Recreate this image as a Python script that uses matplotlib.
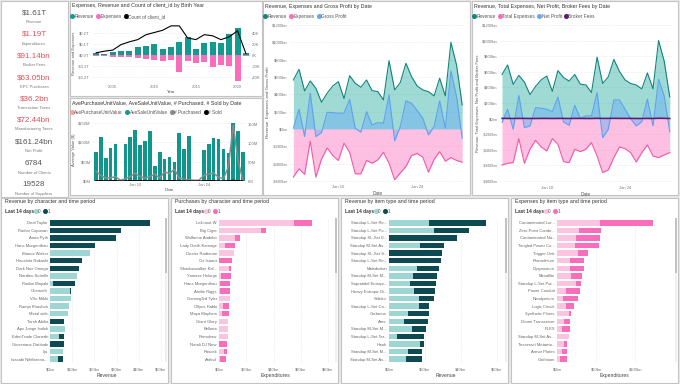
import numpy as np
import matplotlib
matplotlib.use('Agg')
import matplotlib.pyplot as plt
import matplotlib.dates as mdates
from matplotlib.patches import Rectangle
from matplotlib.lines import Line2D

plt.rcParams['font.family'] = ['Liberation Sans', 'DejaVu Sans']

# ---------------- data ----------------
kpi_values = ['$1.61T', '$1.19T', '$91.14bn', '$63.05bn', '$36.2bn', '$72.44bn', '$161.24bn', '6784', '19528']
kpi_labels = ['Revenue', 'Expenditures', 'Broker Fees', 'EPC Purchases', 'Transaction Taxes',
              'Manufacturing Taxes', 'Net Profit', 'Number of Clients', 'Number of Suppliers']
kpi_red = [False, True, True, True, True, True, False, False, False]

birth_years = [2003, 2004, 2005, 2006, 2007, 2008, 2009, 2010, 2011, 2012,
               2013, 2014, 2015, 2016, 2017, 2018, 2019, 2020, 2021]
year_revenue = [0.015, 0.01, 0.03, 0.035, 0.04, 0.07, 0.08, 0.1, 0.055, 0.07,
                0.12, 0.16, 0.055, 0.11, 0.115, 0.11, 0.19, 0.25, 0.015]
year_expenses = [-0.01, -0.005, -0.02, -0.02, -0.015, -0.03, -0.035, -0.045, -0.055, -0.045,
                 -0.15, -0.055, -0.075, -0.065, -0.11, -0.09, -0.1, -0.24, -0.01]
year_clients = [4, 7, 9, 19, 24, 28, 37, 41, 45, 53, 53, 31, 28, 37, 35, 28, 33, 44, 3]

days = np.arange(np.datetime64('2024-01-02'), np.datetime64('2024-02-02'))
ave_sale = [76, 113, 59, 85, 97, 0, 97, 113, 131, 92, 103, 129, 39, 75, 57, 63, 50, 124, 83, 116,
            0, 0, 80, 96, 112, 108, 82, 72, 149, 129, 75]
n_purchased = [26, 15, 8, 9, 11, 2, 6, 12, 21, 12, 8, 12, 18, 8, 24, 20, 31, 8, 4, 3,
               2, 2, 15, 19, 21, 10, 6, 38, 149, 51, 2]
n_sold = [1, 1, 0.5, 1, 1, 0.3, 0.5, 1, 1, 1, 0.5, 1, 1, 0.5, 1, 1, 1, 0.5, 0.5, 0.3,
          0.2, 0.2, 1, 1, 1, 0.5, 0.5, 1, 2, 1, 0.3]

revenue = [565, 688, 438, 554, 469, 308, 412, 496, 546, 350, 615, 527, 481, 565, 442, 431,
           335, 788, 450, 535, 758, 604, 496, 450, 431, 381, 585, 381, 1000, 738, 277]
expenses = [-557, -461, -526, -142, -557, -350, -220, -308, -365, -165, -273, -519, -519, -365, -396, -358,
            -270, -396, -588, -508, -435, -308, -284, -327, -500, -354, -262, -373, -331, -365, -385]
gross_profit = [8, 227, -88, 412, -88, -42, 192, 188, 181, 181, 342, 8, -38, 200, 46, 73,
                65, 392, -138, 27, 323, 296, 212, 123, -69, 27, 323, 8, 669, 373, -108]
total_expenses = [-594, -573, -564, -256, -573, -393, -278, -363, -415, -256, -329, -551, -564, -393, -423, -393,
                  -308, -479, -692, -658, -500, -363, -385, -436, -556, -436, -338, -479, -500, -466, -436]
net_profit = [-51, 120, -137, 299, -115, -94, 141, 132, 120, 90, 278, -43, -85, 171, 4, 34,
              34, 333, -244, -137, 239, 239, 120, 0, -94, -38, 248, -94, 504, 291, -171]
broker_fees = [3, 3, 2, 3, 3, 2, 2, 3, 3, 2, 3, 3, 2, 3, 3, 2,
               2, 4, 3, 3, 4, 3, 3, 3, 2, 2, 3, 2, 5, 4, 2]

char_names = ['Deal Taylor', 'Radiar Capusan', 'Anna Pyth', 'Hans Morgenthau', 'Bianca Walker',
              'Hiroshita Nakashi', 'Dark Nox Omega', 'Nardieu Sotrelle', 'Radan Mayaki', 'Obemoth',
              'Ville Mikki', 'Ramja Khashon', 'Metal sids', 'Tarsh Abiha', 'Apx Jonge Inolek',
              'EdenTrade Clonedri', 'Giuseriane Dattiode', 'Ilja', 'Isasabi Nihilistena...']
char_rev_0 = [0, 0, 0, 0, 18, 0, 0, 12.3, 1.2, 9.0, 9.3, 8.4, 8.1, 0, 6.6, 3.9, 0, 6.0, 3.5]
char_rev_1 = [45, 32, 29.6, 20.1, 0, 14.6, 13.2, 0, 10.2, 0.5, 0, 0, 0, 6.5, 0, 2.6, 6.3, 0, 2.5]

buyer_names = ['Lekinoot W', 'Big Cigar', 'Wolfonne Audeko', 'Lady Darth Karnage', 'Dexter Radtanne',
               'Oz Isaacs', 'Shadowwalker Kal...', 'Yamaze Helurge', 'Hans Morgenthau', 'Amilie Riggs',
               'Gaming3rd Tyler', 'Ollyus Habbi', 'Maya Mayhem', 'Giant Glory', 'Bellona',
               'Remohaw', 'Natali DJ New', 'Rascek', 'Ardind']
char_exp_0 = [55, 30.8, 11.6, 4.3, 10.8, 0, 7.2, 1.4, 0.5, 0.5, 8.0, 3.1, 2.4, 6.7, 6.5, 6.3, 0, 3.9, 0.5]
char_exp_1 = [13.2, 3.7, 4.1, 7.5, 0, 9.2, 1.5, 7.3, 7.7, 7.5, 0.4, 4.4, 4.6, 0, 0, 0, 6.0, 1.9, 5.0]

item_rev_names = ['Standup L-Set Re...', 'Standup L-Set Po...', 'Standup XL-Set E...', 'Standup M-Set As...',
                  'Standup XL-Set S...', 'Standup L-Set Re...', 'Malediction', 'Standup M-Set M...',
                  'Supratidal Entropi...', 'Heavy Entropic Di...', 'Stiletto', 'Standup L-Set Ca...',
                  'Cerberus', 'Ares', 'Standup M-Set M...', 'Standup L-Set Ter...', 'Hawk',
                  'Standup M-Set M...', 'Standup M-Set As...']
item_rev_0 = [22.0, 24.8, 0, 17.1, 0, 0, 15.6, 13.6, 11.9, 13.8, 16.5, 16.7, 10.3, 8.1, 12.7, 4.6, 17.4, 10.3, 9.7]
item_rev_1 = [32.1, 19.6, 37.8, 13.7, 29.7, 28.6, 11.9, 13.0, 14.2, 11.7, 8.3, 5.5, 11.7, 13.4, 7.7, 15.0, 2.0, 8.2, 8.6]

item_exp_names = ['Contaminated Lor...', 'Zero-Point Conde...', 'Contaminated Na...', 'Tangled Power Co...',
                  'Trigger Unit', 'Promethium', 'Dysprosium', 'Mexallite', 'Standup L-Set Poi...',
                  'Power Conduit', 'Neodymium', 'Logic Circuit', 'Synthetic Fibers', 'Drone Transceiver',
                  'PLEX', 'Standup M-Set As...', 'Tesseract Metama...', 'Armor Plates', 'Cadmium']
item_exp_0 = [54.5, 27.7, 24.7, 23.4, 26.4, 17.0, 16.2, 18.3, 24.3, 11.1, 7.2, 11.9, 15.3, 8.9, 6.4, 14.9, 8.9, 6.4, 4.3]
item_exp_1 = [68.1, 28.9, 30.6, 30.6, 13.2, 17.5, 17.8, 13.6, 5.9, 18.7, 20.0, 9.8, 2.6, 8.1, 9.8, 0.8, 4.3, 6.8, 8.9]

# ---------------- colours ----------------
TEAL = '#139a90'
PINK = '#f96dbb'
BLUE = '#68a8f0'
DARK_TEAL = '#0d4a52'
LIGHT_TEAL = '#9dd6d3'
LIGHT_PINK = '#fcc4e1'

W, H = 680, 384
fig = plt.figure(figsize=(6.8, 3.84), dpi=100)
fig.patch.set_facecolor('#e8e8e8')


def box(x, y, w, h):
    return [x / W, 1 - (y + h) / H, w / W, h / H]


def panel(x, y, w, h):
    fig.add_artist(Rectangle((x / W, 1 - (y + h) / H), w / W, h / H, transform=fig.transFigure,
                             facecolor='white', edgecolor='#c4c4c4', lw=0.8, zorder=0))


def ftext(x, y, s, **kw):
    kw.setdefault('va', 'center')
    fig.text(x / W, 1 - y / H, s, **kw)


def legend(x, y, items, size=3.4):
    handles = [Line2D([], [], marker='o', ls='', color=c, markersize=2.6) for _, c in items]
    fig.legend(handles, [l for l, _ in items], loc='center left', bbox_to_anchor=(x / W, 1 - y / H),
               ncol=len(items), frameon=False, fontsize=size, handlelength=0.5, handletextpad=0.2,
               columnspacing=0.7, borderpad=0, borderaxespad=0, labelcolor='#555555')


def style(ax, size=3.2, grid='y'):
    for s in ax.spines.values():
        s.set_visible(False)
    ax.tick_params(length=0, labelsize=size, colors='#777777', pad=1.5)
    if grid:
        ax.grid(axis=grid, color='#d8d8d8', lw=0.4, ls=(0, (1, 1.5)))
    ax.set_axisbelow(True)
    ax.patch.set_alpha(0)


# ---------------- panels ----------------
panel(1, 1, 67, 196)
panel(70, 1, 192, 95)
panel(70, 98, 192, 97)
panel(263, 1, 207, 194)
panel(472, 1, 206, 194)
for px in [1, 171, 341, 511]:
    panel(px, 198, 167, 185)

# ---------------- KPI cards ----------------
for i in range(len(kpi_values)):
    yv = 13 + 21.5 * i
    ftext(34, yv, kpi_values[i], ha='center', fontsize=5.8,
          color='#e0525a' if kpi_red[i] else '#555555')
    ftext(34, yv + 9, kpi_labels[i], ha='center', fontsize=3.0, color='#777777')

# ---------------- chart 1: by birth year ----------------
ftext(72, 6, 'Expenses, Revenue and Count of client_id by Birth Year', fontsize=3.8, color='#333333')
legend(71, 16.5, [('Revenue', TEAL), ('Expenses', PINK), ('Count of client_id', 'black')])
ax = fig.add_axes(box(92, 24, 158, 59))
style(ax, 3.0)
ax.bar(birth_years, year_revenue, width=0.72, color=TEAL)
ax.bar(birth_years, year_expenses, width=0.72, color=PINK)
ax.set_xlim(2002.5, 2021.5)
ax.set_ylim(-0.2545, 0.282)
ax.set_yticks([-0.2, -0.1, 0, 0.1, 0.2])
ax.set_yticklabels(['-$0.2T', '-$0.1T', '$0.0T', '$0.1T', '$0.2T'])
ax.set_xticks([2005, 2010, 2015, 2020])
ax.set_xlabel('Year', fontsize=3.2, color='#555555', labelpad=1)
ax.set_ylabel('Revenue and Expenses', fontsize=3.0, color='#555555', labelpad=1.5)
ax2 = ax.twinx()
style(ax2, 3.0, grid=None)
ax2.plot(birth_years, year_clients, color='black', lw=0.8)
ax2.set_ylim(-50.9, 56.4)
ax2.set_yticks([-40, -20, 0, 20, 40])
ax2.set_yticklabels(['-40K', '-20K', '0K', '20K', '40K'])

# ---------------- chart 2: unit values ----------------
ftext(72, 104, 'AvePurchaseUnitValue, AveSaleUnitValue, # Purchased, # Sold by Date', fontsize=3.8, color='#333333')
legend(71, 112.5, [('AvePurchaseUnitValue', '#f2a0a0'), ('AveSaleUnitValue', TEAL),
                   ('# Purchased', '#8a8a8a'), ('# Sold', 'black')])
dn = mdates.date2num(days)
ax = fig.add_axes(box(93, 119, 153, 62))
style(ax, 3.0)
ax.bar(dn, ave_sale, width=0.75, color='#10968a')
ax.set_xlim(dn[0] - 0.6, dn[-1] + 0.6)
ax.set_ylim(0, 160.5)
ax.set_yticks([0, 50, 100, 150])
ax.set_yticklabels(['$0M', '$50M', '$100M', '$150M'])
ax.set_xticks(mdates.date2num([np.datetime64('2024-01-10'), np.datetime64('2024-01-24')]))
ax.set_xticklabels(['Jan 10', 'Jan 24'])
ax.set_xlabel('Date', fontsize=3.2, color='#555555', labelpad=1)
ax.set_ylabel('Average Value ($)', fontsize=3.0, color='#555555', labelpad=1.5)
ax2 = ax.twinx()
style(ax2, 3.0, grid=None)
ax2.plot(dn, n_purchased, color='#8a8a8a', lw=1.1)
ax2.plot(dn, n_sold, color='black', lw=0.8)
ax2.set_ylim(0, 165)
ax2.set_yticks([0, 50, 100, 150])
ax2.set_yticklabels(['0M', '50M', '100M', '150M'])

# ---------------- chart 3: revenue / expenses / gross profit ----------------
ftext(265, 6.5, 'Revenue, Expenses and Gross Profit by Date', fontsize=3.8, color='#333333')
legend(264, 16.5, [('Revenue', '#11857c'), ('Expenses', PINK), ('Gross Profit', BLUE)])
ax = fig.add_axes(box(290, 22, 175, 161))
style(ax, 3.0)
ax.fill_between(dn, 0, revenue, color='#1aa89c', alpha=0.42, lw=0)
ax.fill_between(dn, 0, expenses, color='#fc8ccb', alpha=0.55, lw=0)
ax.fill_between(dn, 0, gross_profit, color='#6cb0f0', alpha=0.5, lw=0)
ax.plot(dn, revenue, color='#11857c', lw=0.8)
ax.plot(dn, expenses, color='#f25aa8', lw=0.8)
ax.plot(dn, gross_profit, color='#5ea2f0', lw=0.8)
ax.set_xlim(dn[0] - 0.6, dn[-1] + 0.5)
ax.set_ylim(-625, 1235)
ax.set_yticks(range(-600, 1201, 200))
ax.set_yticklabels([('-$%dbn' % -v) if v < 0 else ('$%dbn' % v) for v in range(-600, 1201, 200)])
ax.set_xticks(mdates.date2num([np.datetime64('2024-01-10'), np.datetime64('2024-01-24')]))
ax.set_xticklabels(['Jan 10', 'Jan 24'])
ax.set_xlabel('Date', fontsize=3.4, color='#555555', labelpad=1.5)
ax.set_ylabel('Revenue, Expenses and Gross Profit', fontsize=3.2, color='#555555', labelpad=1.5)

# ---------------- chart 4: revenue / total expenses / net profit / broker fees ----------------
ftext(474, 6.5, 'Revenue, Total Expenses, Net Profit, Broker Fees by Date', fontsize=3.8, color='#333333')
legend(473, 16.5, [('Revenue', '#11857c'), ('Total Expenses', PINK), ('Net Profit', BLUE),
                   ('Broker Fees', '#5c1a70')])
ax = fig.add_axes(box(500, 22, 172, 162))
style(ax, 3.0)
ax.fill_between(dn, 0, revenue, color='#1aa89c', alpha=0.42, lw=0)
ax.fill_between(dn, 0, total_expenses, color='#fc8ccb', alpha=0.55, lw=0)
ax.fill_between(dn, 0, net_profit, color='#6cb0f0', alpha=0.5, lw=0)
ax.fill_between(dn, 0, broker_fees, color='#7a2a8a', alpha=0.5, lw=0)
ax.plot(dn, revenue, color='#11857c', lw=0.8)
ax.plot(dn, total_expenses, color='#f25aa8', lw=0.8)
ax.plot(dn, net_profit, color='#5ea2f0', lw=0.8)
ax.plot(dn, broker_fees, color='#5c1a70', lw=1.1)
ax.set_xlim(dn[0] - 0.36, dn[-1] + 0.4)
ax.set_ylim(-838, 1238)
ax.set_yticks(range(-800, 1201, 200))
ax.set_yticklabels([('-$%dbn' % -v) if v < 0 else ('$%dbn' % v) for v in range(-800, 1201, 200)])
ax.set_xticks(mdates.date2num([np.datetime64('2024-01-10'), np.datetime64('2024-01-24')]))
ax.set_xticklabels(['Jan 10', 'Jan 24'])
ax.set_xlabel('Date', fontsize=3.4, color='#555555', labelpad=1.5)
ax.set_ylabel('Revenue, Total Expenses, Net Profit and Broker Fees', fontsize=3.0, color='#555555', labelpad=1.5)

# ---------------- bottom bar panels ----------------
bar_panels = [
    (1, 'Revenue by character and time period', char_names, char_rev_0, char_rev_1,
     LIGHT_TEAL, DARK_TEAL, 50, 113, [0, 10, 20, 30, 40, 50], 50.9, 'Revenue'),
    (171, 'Purchases by character and time period', buyer_names, char_exp_0, char_exp_1,
     LIGHT_PINK, PINK, 219, 112, [0, 20, 40, 60, 80], 82.2, 'Expenditures'),
    (341, 'Revenue by item type and time period', item_rev_names, item_rev_0, item_rev_1,
     LIGHT_TEAL, DARK_TEAL, 389, 114, [0, 20, 40, 60], 63.3, 'Revenue'),
    (511, 'Expenses by item type and time period', item_exp_names, item_exp_0, item_exp_1,
     LIGHT_PINK, PINK, 557, 116, [0, 50, 100], 148, 'Expenditures'),
]
for px, title, names, v0, v1, c0, c1, ax_x, ax_w, ticks, xmax, xlab in bar_panels:
    ftext(px + 4, 201.5, title, fontsize=3.8, color='#333333')
    ftext(px + 4, 211.5, 'Last 14 days', fontsize=3.4, color='#333333', fontweight='bold')
    legend(px + 34, 211.5, [('0', c0), ('1', c1)])
    ax = fig.add_axes(box(ax_x, 219, ax_w, 144))
    style(ax, 3.0, grid='x')
    pos = np.arange(len(names))
    ax.barh(pos, v0, height=0.72, color=c0)
    ax.barh(pos, v1, left=v0, height=0.72, color=c1)
    ax.set_ylim(len(names) - 0.5, -0.5)
    ax.set_yticks(pos)
    ax.set_yticklabels(names, fontsize=3.0, color='#666666')
    ax.set_xlim(0, xmax)
    ax.set_xticks(ticks)
    ax.set_xticklabels(['$%dbn' % t for t in ticks])
    ax.tick_params(axis='x', pad=3)
    ax.set_xlabel(xlab, fontsize=3.6, color='#444444', labelpad=1.5)
    # scrollbar
    fig.add_artist(Rectangle(((px + 163.5) / W, 1 - 362 / H), 2.5 / W, 144 / H, transform=fig.transFigure,
                             facecolor='#f0f0f0', lw=0))
    fig.add_artist(Rectangle(((px + 163.5) / W, 1 - 273 / H), 2.5 / W, 55 / H, transform=fig.transFigure,
                             facecolor='#c2c2c2', lw=0))

fig.savefig('out.png', dpi=100, facecolor=fig.get_facecolor())
